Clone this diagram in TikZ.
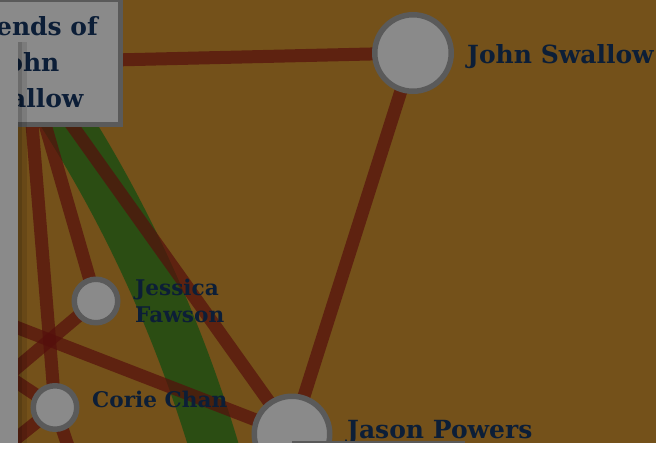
\documentclass[tikz,border=0pt]{standalone}
\usepackage{fontspec}
\setmainfont{DejaVu Serif}
\definecolor{bgbrown}{RGB}{116,81,26}
\definecolor{edgered}{RGB}{85,15,12}
\definecolor{bandgreen}{RGB}{43,77,19}
\definecolor{nodegray}{RGB}{138,138,138}
\definecolor{ringgray}{RGB}{90,90,90}
\definecolor{inkblue}{RGB}{12,30,55}
\pgfdeclarelayer{base}
\pgfdeclarelayer{back}
\pgfdeclarelayer{links}
\pgfdeclarelayer{front}
\pgfsetlayers{base,back,links,main,front}
\tikzset{
  person/.style={circle, fill=nodegray, draw=ringgray, line width=5.5pt, inner sep=0pt},
  link/.style={draw=edgered, line width=13pt, opacity=0.7},
  band/.style={draw=bandgreen, line width=49pt},
  lblbig/.style={text=inkblue, inner sep=0pt, font=\bfseries\fontsize{25}{28}\selectfont},
  lblsmall/.style={text=inkblue, inner sep=0pt, font=\bfseries\fontsize{21.6}{27}\selectfont},
  groupbox/.style={rectangle, fill=nodegray, draw=ringgray, line width=5pt,
    minimum width=186pt, minimum height=125pt, text=inkblue, align=center,
    font=\bfseries\fontsize{25}{36}\selectfont}
}
\begin{document}
\begin{tikzpicture}[x=1pt,y=-1pt]
\useasboundingbox (0,0) rectangle (656,451);
\clip (0,0) rectangle (656,451);
\begin{pgfonlayer}{base}
\fill[bgbrown] (0,0) rectangle (656,451);
\end{pgfonlayer}

% nodes
\node[person, minimum size=76.5pt] (john) at (413,53) {};
\node[person, minimum size=75.5pt] (jason) at (292,434) {};
\node[person, minimum size=43.5pt] (jessica) at (96,301) {};
\node[person, minimum size=43.5pt] (corie) at (55,407.5) {};
\node[groupbox] (box) at (27,62) {Friends of\\John\\Swallow};

% off-screen ends
\coordinate (offA) at (-183,250);
\coordinate (offB) at (-200,551);
\coordinate (offC) at (-200,611);
\coordinate (offD) at (120,600);
\coordinate (offE) at (234,520);

\begin{pgfonlayer}{back}
\draw[band] (box.center) .. controls (132,210) and (196,366) .. (offE);
\end{pgfonlayer}

\begin{pgfonlayer}{links}
\draw[link] (box.center) -- (john.center);
\draw[link] (john.center) -- (jason.center);
\draw[link] (box.center) -- (jason.center);
\draw[link] (box.center) -- (jessica.center);
\draw[link] (box.center) -- (corie.center);
\draw[link] (offA) -- (jason.center);
\draw[link] (offA) -- (corie.center);
\draw[link] (jessica.center) -- (offB);
\draw[link] (corie.center) -- (offC);
\draw[link] (corie.center) -- (offD);
\end{pgfonlayer}

% labels
\node[lblbig, anchor=base west] (johnlbl) at (467,63) {John Swallow};
\node[lblbig, anchor=base west] (jasonlbl) at (347,438) {Jason Powers};
\node[lblsmall, anchor=base west] (corielbl) at (92,407) {Corie Chan};
\node[lblsmall, anchor=north west, align=left] (jessicalbl) at (135,279) {Jessica\\Fawson};

\begin{pgfonlayer}{front}
\fill[nodegray] (0,42) rectangle (18,443);
\fill[black, opacity=0.22] (18,42) rectangle (22,443);
\fill[black, opacity=0.10] (22,42) rectangle (27,443);
\fill[ringgray] (292,441) rectangle (465,443);
\fill[white] (0,443) rectangle (656,452);
\end{pgfonlayer}
\end{tikzpicture}
\end{document}
